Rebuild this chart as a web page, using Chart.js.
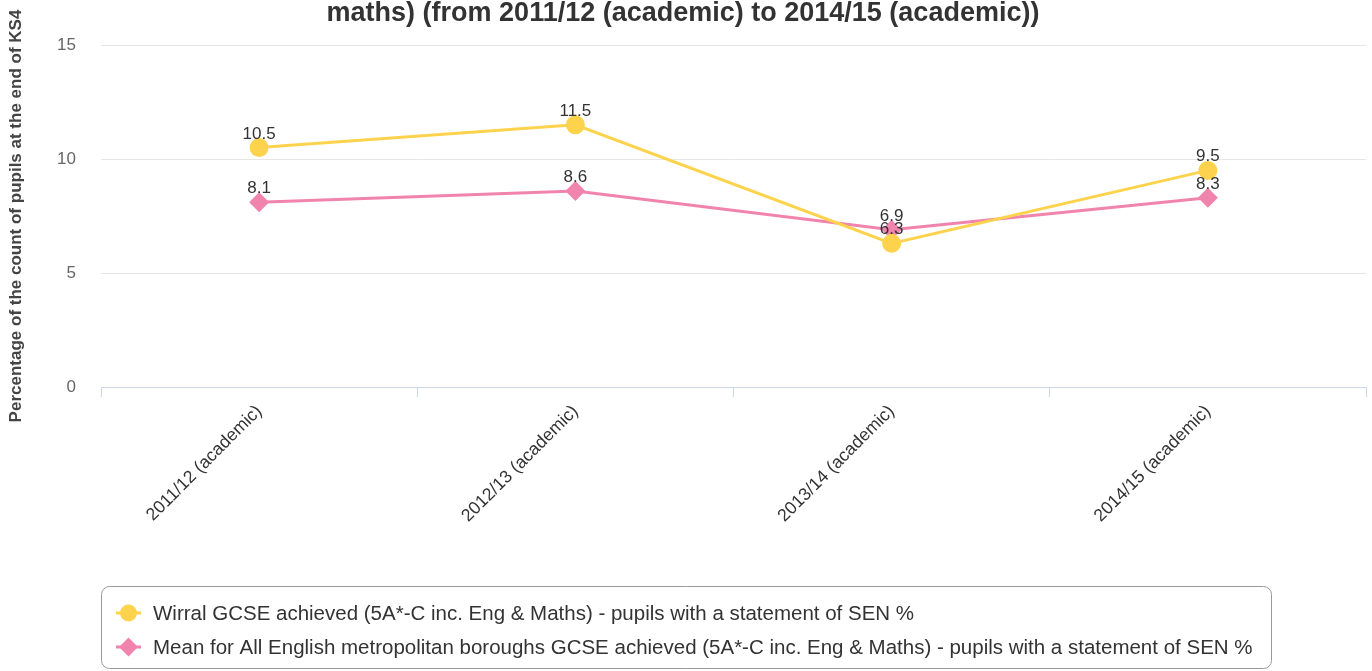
<!DOCTYPE html>
<html><head><meta charset="utf-8">
<script src="https://cdn.jsdelivr.net/npm/chart.js@4/dist/chart.umd.min.js"></script>
<style>html,body{margin:0;padding:0;background:#fff;} #wrap{position:relative;width:1372px;height:671px;}</style>
</head><body><div id="wrap"><canvas id="c" width="1372" height="671"></canvas></div>
<script>
const titleText = 'maths) (from 2011/12 (academic) to 2014/15 (academic))';
const yAxisTitle = 'Percentage of the count of pupils at the end of KS4';
const categories = ['2011/12 (academic)', '2012/13 (academic)', '2013/14 (academic)', '2014/15 (academic)'];
const wirralValues = [10.5, 11.5, 6.3, 9.5];
const meanValues = [8.1, 8.6, 6.9, 8.3];
const seriesNames = [
  'Wirral GCSE achieved (5A*-C inc. Eng & Maths) - pupils with a statement of SEN %',
  'Mean for All English metropolitan boroughs GCSE achieved (5A*-C inc. Eng & Maths) - pupils with a statement of SEN %'
];
const yTickValues = [0, 5, 10, 15];
const seriesColors = ['#fdd34e', '#f084ad'];
const seriesMarkers = ['circle', 'rectRot'];

const FONT = '"Liberation Sans", Arial, Helvetica, sans-serif';

function drawMarker(ctx, style, x, y, r, color) {
  ctx.save();
  ctx.fillStyle = color;
  ctx.beginPath();
  if (style === 'circle') {
    ctx.arc(x, y, r, 0, Math.PI * 2);
  } else {
    ctx.moveTo(x, y - r); ctx.lineTo(x + r, y); ctx.lineTo(x, y + r); ctx.lineTo(x - r, y); ctx.closePath();
  }
  ctx.fill();
  ctx.restore();
}

const extrasPlugin = {
  id: 'extras',
  afterDraw(chart) {
    const ctx = chart.ctx;
    ctx.save();
    // title
    ctx.fillStyle = '#333333';
    ctx.font = 'bold 27px ' + FONT;
    ctx.textAlign = 'center';
    ctx.textBaseline = 'alphabetic';
    ctx.fillText(titleText, 683, 21);
    // data labels
    ctx.font = '17px ' + FONT;
    ctx.fillStyle = '#333333';
    chart.data.datasets.forEach((ds, i) => {
      const meta = chart.getDatasetMeta(i);
      meta.data.forEach((pt, j) => {
        ctx.fillText(String(ds.data[j]), pt.x, pt.y - 9);
      });
    });
    // legend
    ctx.strokeStyle = '#999999';
    ctx.lineWidth = 1;
    ctx.beginPath();
    ctx.roundRect(101.5, 586.5, 1170, 82, 8);
    ctx.stroke();
    ctx.textAlign = 'left';
    ctx.textBaseline = 'middle';
    ctx.font = '20.5px ' + FONT;
    chart.data.datasets.forEach((ds, i) => {
      const y = 613 + i * 34;
      ctx.strokeStyle = ds.borderColor;
      ctx.lineWidth = 3;
      ctx.beginPath(); ctx.moveTo(116, y); ctx.lineTo(141, y); ctx.stroke();
      drawMarker(ctx, seriesMarkers[i], 128.5, y, i === 0 ? 8.5 : 9.5, ds.borderColor);
      ctx.fillStyle = '#333333';
      ctx.fillText(ds.label, 153, y + 1);
    });
    ctx.restore();
  }
};

new Chart(document.getElementById('c'), {
  type: 'line',
  data: {
    labels: categories,
    datasets: [
      { label: seriesNames[0], data: wirralValues, borderColor: seriesColors[0], backgroundColor: seriesColors[0],
        borderWidth: 3, pointStyle: seriesMarkers[0], pointRadius: 9.5, pointBorderWidth: 0, tension: 0 },
      { label: seriesNames[1], data: meanValues, borderColor: seriesColors[1], backgroundColor: seriesColors[1],
        borderWidth: 3, pointStyle: seriesMarkers[1], pointRadius: 10, pointBorderWidth: 0, tension: 0 }
    ]
  },
  options: {
    responsive: false,
    animation: false,
    devicePixelRatio: 1,
    layout: { autoPadding: false, padding: { top: 45, right: 6, bottom: 0, left: 0 } },
    plugins: { legend: { display: false }, title: { display: false }, tooltip: { enabled: false } },
    scales: {
      x: {
        type: 'category',
        offset: true,
        afterFit(s) { s.height = 284; s.paddingLeft = 0; s.paddingRight = 0; },
        grid: { offset: true, drawOnChartArea: false, drawTicks: true, tickLength: 10, color: '#ccd6eb', lineWidth: 1 },
        border: { display: true, color: '#ccd6eb', width: 1 },
        ticks: { minRotation: 45, maxRotation: 45, autoSkip: false, padding: 4, color: '#333333', font: { family: FONT, size: 17.7 } }
      },
      y: {
        min: 0, max: 15,
        afterFit(s) { s.width = 101; s.paddingTop = 0; s.paddingBottom = 0; },
        afterBuildTicks(s) { s.ticks = yTickValues.map(v => ({ value: v })); },
        grid: { color: '#e6e6e6', lineWidth: 1, drawTicks: false },
        border: { display: false },
        ticks: { padding: 25, color: '#666666', font: { family: FONT, size: 17 } },
        title: { display: true, text: yAxisTitle, color: '#444444', padding: { top: 6, bottom: 0 }, font: { family: FONT, size: 17, weight: 'bold' } }
      }
    }
  },
  plugins: [extrasPlugin]
});
</script>
</body></html>
